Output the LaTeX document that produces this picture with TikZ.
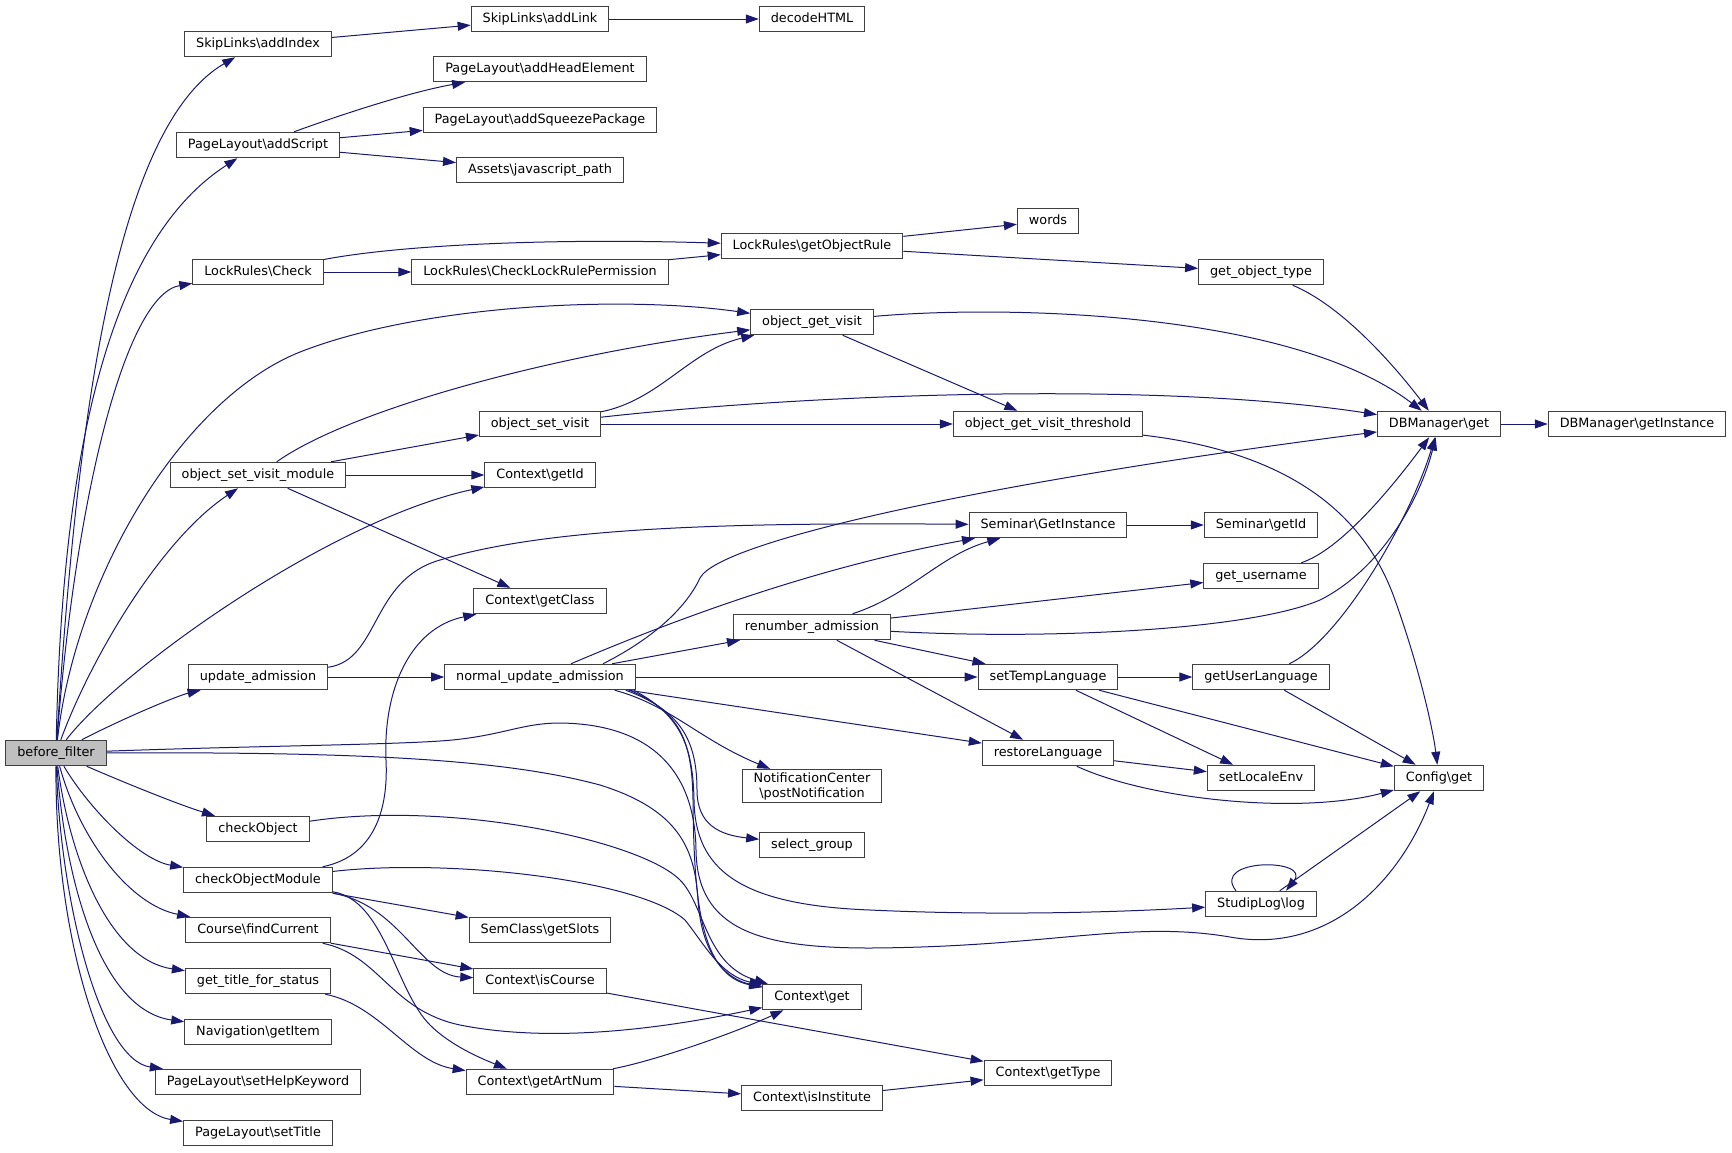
\documentclass[tikz,border=0pt]{standalone}
\usepackage{fontspec}
\setmainfont{DejaVu Sans}
\usetikzlibrary{arrows.meta}
\newcommand\bsl{\textbackslash}
\definecolor{edgeblue}{HTML}{191970}
\definecolor{boxline}{HTML}{404040}
\definecolor{rootgray}{HTML}{BFBFBF}
\begin{document}
\begin{tikzpicture}[x=1pt,y=-1pt,
  fn/.style={draw=boxline,fill=white,line width=1pt,minimum height=25.5pt,
    inner xsep=11.5pt,inner ysep=0pt,text height=9.5pt,text depth=3pt,
    font=\fontsize{12.8}{15}\selectfont},
  % inner sep=2pt,
  call/.style={draw=edgeblue,line width=1pt,-{Triangle[length=13pt,width=9pt]}}]
\useasboundingbox (0,0) rectangle (1732,1152);
\node (bf) [fn,fill=rootgray] at (56,753) {before\_filter};
\node (addindex) [fn] at (258,44) {SkipLinks\bsl addIndex};
\node (addscript) [fn] at (258,145) {PageLayout\bsl addScript};
\node (lrcheck) [fn] at (258,272) {LockRules\bsl Check};
\node (osvm) [fn] at (258,475) {object\_set\_visit\_module};
\node (updadm) [fn] at (258,677) {update\_admission};
\node (chkobj) [fn] at (258,829) {checkObject};
\node (chkobjmod) [fn] at (258,880) {checkObjectModule};
\node (findcur) [fn] at (258,930) {Course\bsl findCurrent};
\node (titlestat) [fn] at (258,981) {get\_title\_for\_status};
\node (navitem) [fn] at (258,1032) {Navigation\bsl getItem};
\node (helpkw) [fn] at (258,1082) {PageLayout\bsl setHelpKeyword};
\node (settitle) [fn] at (258,1133) {PageLayout\bsl setTitle};
\node (addlink) [fn] at (540,19) {SkipLinks\bsl addLink};
\node (headel) [fn] at (540,69) {PageLayout\bsl addHeadElement};
\node (squeeze) [fn] at (540,120) {PageLayout\bsl addSqueezePackage};
\node (jspath) [fn] at (540,170) {Assets\bsl javascript\_path};
\node (lrperm) [fn] at (540,272) {LockRules\bsl CheckLockRulePermission};
\node (osv) [fn] at (540,424) {object\_set\_visit};
\node (getid) [fn] at (540,475) {Context\bsl getId};
\node (getclass) [fn] at (540,601) {Context\bsl getClass};
\node (nua) [fn] at (540,677) {normal\_update\_admission};
\node (slots) [fn] at (540,930) {SemClass\bsl getSlots};
\node (iscourse) [fn] at (540,981) {Context\bsl isCourse};
\node (artnum) [fn] at (540,1082) {Context\bsl getArtNum};
\node (decode) [fn] at (812,19) {decodeHTML};
\node (objrule) [fn] at (812,246) {LockRules\bsl getObjectRule};
\node (ogv) [fn] at (812,322) {object\_get\_visit};
\node (renum) [fn] at (812,627) {renumber\_admission};
\node (notify) [fn,align=center,text height=,text depth=,inner ysep=3pt] at (812,786) {NotificationCenter\\\bsl postNotification};
\node (selgroup) [fn] at (812,845) {select\_group};
\node (ctxget) [fn] at (812,997) {Context\bsl get};
\node (isinst) [fn] at (812,1098) {Context\bsl isInstitute};
\node (words) [fn] at (1048,221) {words};
\node (ogvt) [fn] at (1048,424) {object\_get\_visit\_threshold};
\node (seminst) [fn] at (1048,525) {Seminar\bsl GetInstance};
\node (settemp) [fn] at (1048,677) {setTempLanguage};
\node (restore) [fn] at (1048,753) {restoreLanguage};
\node (gettype) [fn] at (1048,1073) {Context\bsl getType};
\node (objtype) [fn] at (1261,272) {get\_object\_type};
\node (semid) [fn] at (1261,525) {Seminar\bsl getId};
\node (username) [fn] at (1261,576) {get\_username};
\node (userlang) [fn] at (1261,677) {getUserLanguage};
\node (locale) [fn] at (1261,778) {setLocaleEnv};
\node (studlog) [fn] at (1261,904) {StudipLog\bsl log};
\node (dbget) [fn] at (1439,424) {DBManager\bsl get};
\node (dbinst) [fn] at (1637,424) {DBManager\bsl getInstance};
\node (cfgget) [fn] at (1439,778) {Config\bsl get};
% calls of before_filter
\draw[call] (bf) .. controls (75,450) and (110,130) .. (addindex);
\draw[call] (bf) .. controls (62,450) and (110,240) .. (addscript);
\draw[call] (bf) .. controls (75,500) and (125,295) .. (lrcheck);
\draw[call] (bf) .. controls (75,580) and (180,400) .. (300,352) .. controls (420,305) and (620,295) .. (ogv);
\draw[call] (bf) .. controls (90,660) and (160,540) .. (osvm);
\draw[call] (bf) .. controls (120,670) and (330,520) .. (getid);
\draw[call] (bf) .. controls (130,715) and (180,695) .. (updadm);
\draw[call] (bf) .. controls (130,785) and (180,805) .. (chkobj);
\draw[call] (bf) .. controls (90,810) and (140,860) .. (chkobjmod);
\draw[call] (bf) .. controls (80,840) and (130,905) .. (findcur);
\draw[call] (bf) .. controls (70,860) and (110,960) .. (titlestat);
\draw[call] (bf) .. controls (65,880) and (100,1010) .. (navitem);
\draw[call] (bf) .. controls (60,900) and (100,1060) .. (helpkw);
\draw[call] (bf) .. controls (55,950) and (110,1110) .. (settitle);
\draw[call] (bf) .. controls (250,746) and (380,745) .. (440,741) .. controls (500,737) and (520,723) .. (560,723) .. controls (650,724) and (695,770) .. (696,850) .. controls (697,930) and (760,948) .. (870,948) .. controls (1050,947) and (1130,920) .. (1230,937) .. controls (1330,955) and (1400,880) .. (cfgget);
\draw[call] (bf) .. controls (350,752) and (500,758) .. (600,785) .. controls (680,810) and (695,850) .. (698,900) .. controls (702,960) and (730,980) .. (ctxget);
% upper part
\draw[call] (addindex) -- (addlink);
\draw[call] (addlink) -- (decode);
\draw[call] (addscript) .. controls (340,115) and (410,92) .. (headel);
\draw[call] (addscript) -- (squeeze);
\draw[call] (addscript) -- (jspath);
\draw[call] (lrcheck) .. controls (400,245) and (550,238) .. (objrule);
\draw[call] (lrcheck) -- (lrperm);
\draw[call] (lrperm) -- (objrule);
\draw[call] (objrule) -- (words);
\draw[call] (objrule) -- (objtype);
\draw[call] (objtype) .. controls (1340,305) and (1390,360) .. (dbget);
\draw[call] (osvm) .. controls (350,410) and (550,355) .. (ogv);
\draw[call] (osvm) -- (osv);
\draw[call] (osvm) -- (getid);
\draw[call] (osvm) -- (getclass);
\draw[call] (osv) .. controls (660,400) and (690,350) .. (ogv);
\draw[call] (osv) .. controls (800,395) and (1150,380) .. (dbget);
\draw[call] (osv) -- (ogvt);
\draw[call] (ogv) -- (ogvt);
\draw[call] (ogv) .. controls (1000,305) and (1290,310) .. (dbget);
\draw[call] (ogvt) .. controls (1270,450) and (1360,500) .. (1395,600) .. controls (1420,670) and (1433,730) .. (cfgget);
\draw[call] (dbget) -- (dbinst);
% admission
\draw[call] (updadm) -- (nua);
\draw[call] (updadm) .. controls (380,660) and (370,580) .. (440,560) .. controls (540,530) and (700,522) .. (seminst);
\draw[call] ([xshift=63pt]nua.north) .. controls (650,640) and (685,610) .. (700,578) .. controls (720,540) and (1000,480) .. (dbget);
\draw[call] (nua) .. controls (650,630) and (800,570) .. (seminst);
\draw[call] (nua) -- (renum);
\draw[call] (nua) -- (settemp);
\draw[call] (nua) -- (restore);
\draw[call] ([xshift=-21pt]nua.south east) .. controls (670,705) and (700,740) .. (notify);
\draw[call] ([xshift=-10pt]nua.south east) .. controls (680,710) and (697,740) .. (697,790) .. controls (697,825) and (720,835) .. (selgroup);
\draw[call] ([xshift=-2pt]nua.south east) .. controls (680,715) and (693,745) .. (694,800) .. controls (695,870) and (740,905) .. (870,910) .. controls (1000,916) and (1120,912) .. (studlog);
\draw[call] ([xshift=-6pt]nua.south east) .. controls (680,712) and (692,740) .. (693,800) .. controls (694,900) and (700,975) .. (ctxget);
\draw[call] (renum) .. controls (910,595) and (940,555) .. (seminst);
\draw[call] (renum) -- (username);
\draw[call] (renum) .. controls (1050,640) and (1250,630) .. (1320,600) .. controls (1380,570) and (1420,500) .. (dbget);
\draw[call] (renum) -- (settemp);
\draw[call] (renum) -- (restore);
\draw[call] (seminst) -- (semid);
\draw[call] (username) .. controls (1340,550) and (1390,490) .. (dbget);
\draw[call] (settemp) -- (userlang);
\draw[call] (settemp) -- (locale);
\draw[call] (settemp) -- (cfgget);
\draw[call] (userlang) .. controls (1340,640) and (1410,520) .. (dbget);
\draw[call] (userlang) -- (cfgget);
\draw[call] (restore) -- (locale);
\draw[call] (restore) .. controls (1150,800) and (1300,815) .. (cfgget);
\draw[call] (studlog) -- (cfgget);
\draw[call] ([xshift=-25pt]studlog.north) .. controls (1210,858) and (1312,858) .. ([xshift=25pt]studlog.north);
% context
\draw[call] (chkobj) .. controls (450,800) and (640,840) .. (680,880) .. controls (705,905) and (705,965) .. (ctxget);
\draw[call] (chkobjmod) .. controls (380,855) and (388,800) .. (386,760) .. controls (383,690) and (410,628) .. (getclass);
\draw[call] (chkobjmod) .. controls (450,858) and (640,880) .. (685,920) .. controls (705,945) and (720,975) .. (ctxget);
\draw[call] (chkobjmod) -- (slots);
\draw[call] (chkobjmod) .. controls (400,905) and (420,975) .. (iscourse);
\draw[call] (chkobjmod) .. controls (385,900) and (395,990) .. (430,1025) .. controls (450,1045) and (480,1058) .. (artnum);
\draw[call] (findcur) -- (iscourse);
\draw[call] (findcur) .. controls (380,955) and (390,1010) .. (460,1025) .. controls (560,1045) and (680,1025) .. (ctxget);
\draw[call] (titlestat) .. controls (380,1005) and (410,1062) .. (artnum);
\draw[call] (iscourse) -- (gettype);
\draw[call] (artnum) .. controls (650,1062) and (730,1035) .. (ctxget);
\draw[call] (artnum) -- (isinst);
\draw[call] (isinst) -- (gettype);
\end{tikzpicture}
\end{document}
